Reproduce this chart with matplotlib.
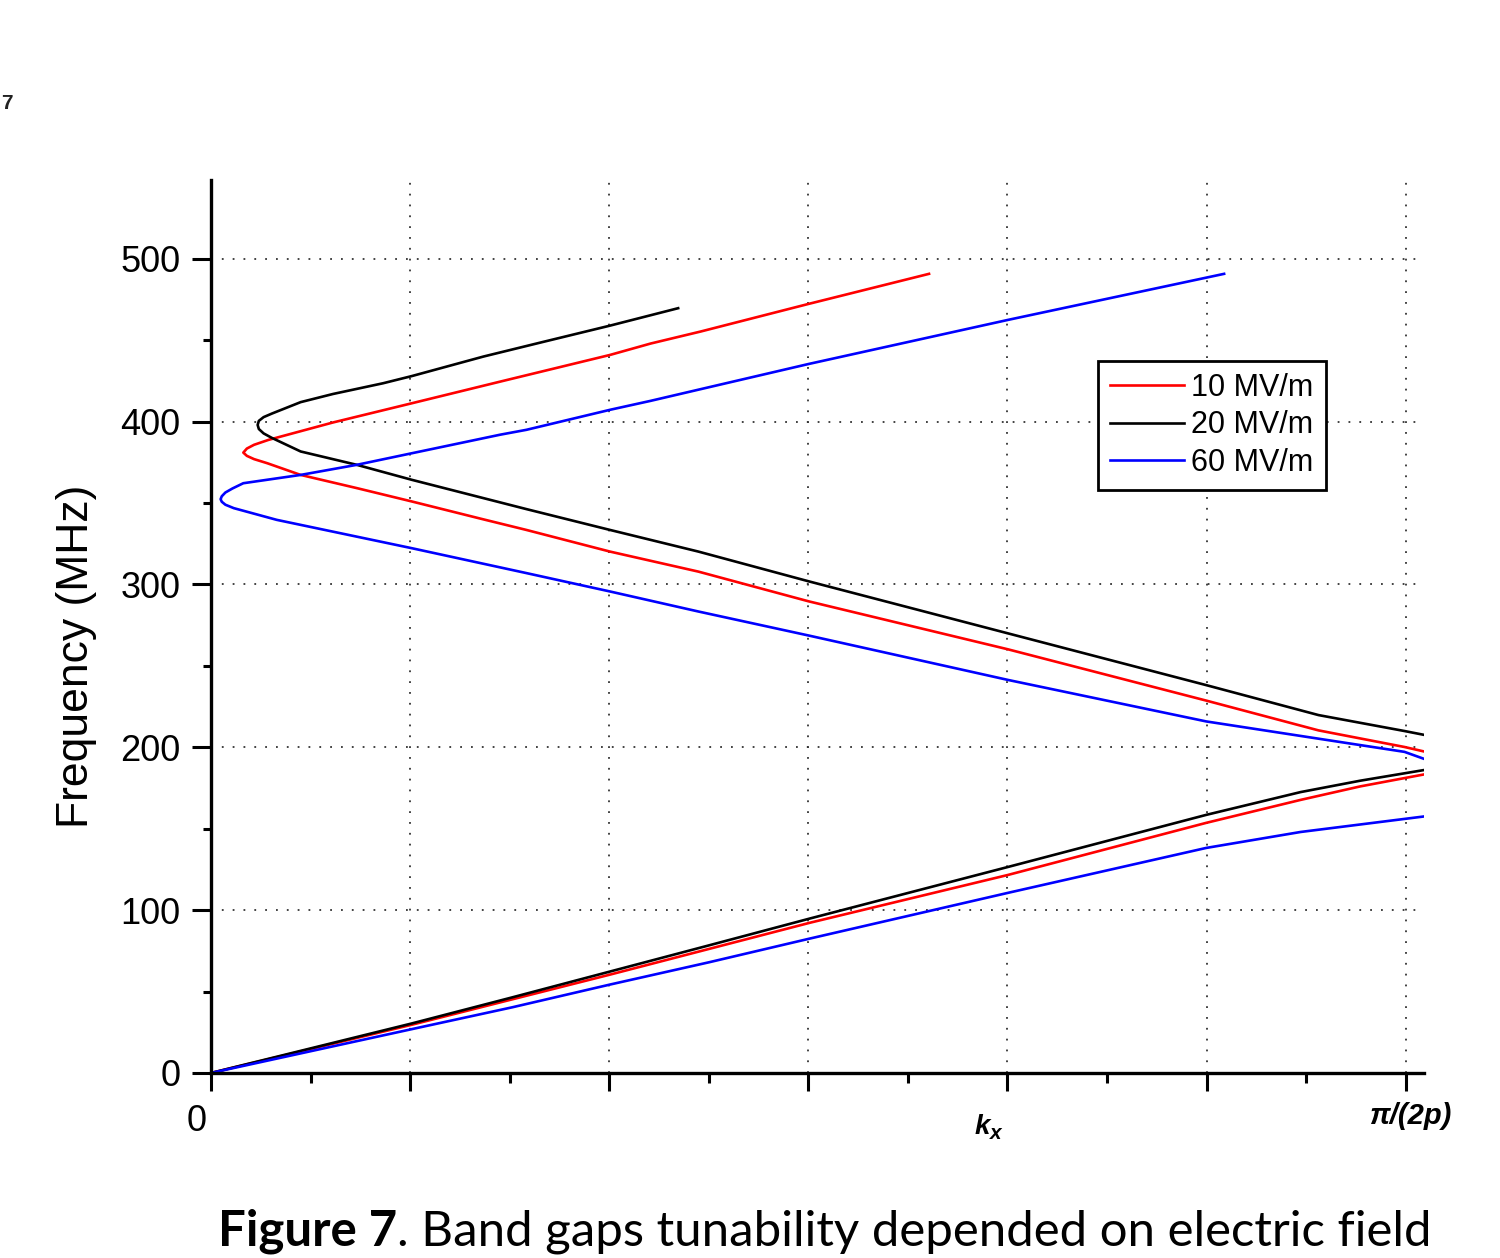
import numpy as np
import matplotlib
matplotlib.use('Agg')
import matplotlib.pyplot as plt
from matplotlib.ticker import MultipleLocator, FixedLocator

# field strengths
labels = ['10 MV/m', '20 MV/m', '60 MV/m']
colors = ['#ff0000', '#000000', '#0000ff']

# lower (acoustic-like) branches: kx in units of pi/(2p), f in MHz
low_k_10 = [0, 0.168, 0.334, 0.501, 0.667, 0.833, 0.912, 0.962, 1.015]
low_f_10 = [0, 29.6, 60.4, 92.2, 121.6, 153.6, 167.7, 176.0, 183.3]
low_k_20 = [0, 0.168, 0.252, 0.334, 0.417, 0.501, 0.667, 0.833, 0.912, 0.962, 1.015]
low_f_20 = [0, 30.4, 46.4, 62.3, 78.4, 94.8, 126.5, 158.5, 172.5, 179.5, 186.0]
low_k_60 = [0, 0.168, 0.252, 0.334, 0.417, 0.501, 0.667, 0.833, 0.912, 1.015]
low_f_60 = [0, 26.9, 40.3, 54.3, 68.0, 82.5, 110.6, 138.2, 148.0, 157.5]

# upper branches (fold back near kx = 0)
up_k_10 = [1.015, 0.999, 0.927, 0.833, 0.667, 0.500, 0.408, 0.334, 0.264, 0.228,
           0.168, 0.122, 0.075, 0.047, 0.036, 0.030, 0.027, 0.030, 0.036, 0.048,
           0.102, 0.168, 0.242, 0.334, 0.368, 0.410, 0.500, 0.601]
up_f_10 = [197.5, 200.2, 210.4, 228.7, 260.2, 289.7, 307.9, 320.2, 333.5, 340.0,
           351.0, 359.2, 367.3, 374.5, 377.0, 379.0, 381.0, 383.5, 385.8, 388.8,
           399.5, 411.3, 424.6, 441.0, 448.0, 455.4, 472.3, 490.8]
up_k_20 = [1.015, 0.999, 0.927, 0.833, 0.667, 0.500, 0.408, 0.334, 0.264, 0.168,
           0.122, 0.075, 0.051, 0.044, 0.040, 0.039, 0.040, 0.044, 0.051, 0.075,
           0.102, 0.144, 0.168, 0.228, 0.278, 0.334, 0.391]
up_f_20 = [207.7, 210.0, 219.8, 238.2, 270.0, 302.0, 320.2, 333.5, 346.3, 364.3,
           373.5, 381.7, 390.0, 392.8, 395.5, 398.0, 400.5, 402.8, 405.0, 412.0,
           417.0, 423.6, 428.0, 440.0, 449.0, 459.0, 469.7]
up_k_60 = [1.015, 0.999, 0.927, 0.833, 0.667, 0.500, 0.408, 0.334, 0.264, 0.168,
           0.055, 0.019, 0.012, 0.009, 0.008, 0.009, 0.012, 0.018, 0.027, 0.075,
           0.122, 0.168, 0.242, 0.264, 0.334, 0.368, 0.410, 0.500, 0.667, 0.848]
up_f_60 = [193.0, 197.2, 205.3, 215.9, 241.4, 268.7, 283.4, 295.7, 307.0, 322.3,
           339.7, 346.9, 349.0, 350.8, 352.4, 354.2, 356.5, 359.0, 362.2, 367.3,
           373.5, 380.6, 392.0, 395.0, 407.3, 412.8, 420.0, 435.4, 462.5, 490.8]

lows = [(low_k_10, low_f_10), (low_k_20, low_f_20), (low_k_60, low_f_60)]
ups = [(up_k_10, up_f_10), (up_k_20, up_f_20), (up_k_60, up_f_60)]

fig = plt.figure(figsize=(15, 12.58), dpi=100)
ax = fig.add_axes([0.1407, 0.1471, 0.8087, 0.7099])

for (lk, lf), (uk, uf), c, lab in zip(lows, ups, colors, labels):
    ax.plot(lk, lf, color=c, lw=1.9)
    ax.plot(uk, uf, color=c, lw=1.9, label=lab)

ax.set_xlim(0, 1.0154)
ax.set_ylim(0, 548.5)

# ticks
ax.xaxis.set_major_locator(FixedLocator(np.arange(7) / 6))
ax.xaxis.set_minor_locator(FixedLocator(np.arange(1, 12, 2) / 12))
ax.yaxis.set_major_locator(MultipleLocator(100))
ax.yaxis.set_minor_locator(MultipleLocator(50))
ax.set_xticklabels([])
ax.tick_params(axis='both', which='major', direction='out', width=2.2, color='black')
ax.tick_params(axis='x', which='major', length=13)
ax.tick_params(axis='y', which='major', length=14, pad=8, labelsize=26)
ax.tick_params(axis='x', which='minor', direction='out', length=7, width=2.2)
ax.tick_params(axis='y', which='minor', direction='out', length=6, width=2.2)
for t in ax.get_yticklabels():
    t.set_family('Liberation Sans')

for s in ['top', 'right']:
    ax.spines[s].set_visible(False)
for s in ['left', 'bottom']:
    ax.spines[s].set_linewidth(2.4)

ax.grid(True, which='major', ls=(0, (1, 5)), color='#333333', lw=1.3)
ax.set_axisbelow(True)

ax.set_ylabel('Frequency (MHz)', fontsize=32, family='Liberation Sans')
ax.yaxis.set_label_coords(-0.094, 0.466)

# x-axis labels
ax.text(-0.012, -0.054, '0', transform=ax.transAxes, ha='center', va='center',
        fontsize=26, family='Liberation Sans')
ax.text(1.004, -0.048, 'π/(2p)', transform=ax.get_xaxis_transform(), ha='center', va='center',
        fontsize=21, family='Liberation Sans', weight='bold', style='italic')
ax.text(0.652, -0.061, 'k', transform=ax.get_xaxis_transform(), ha='right', va='center',
        fontsize=20, family='Liberation Sans', weight='bold', style='italic')
ax.text(0.652, -0.068, 'x', transform=ax.get_xaxis_transform(), ha='left', va='center',
        fontsize=15, family='Liberation Sans', weight='bold', style='italic')

leg = ax.legend(loc='upper left', bbox_to_anchor=(0.7313, 0.7973), borderaxespad=0,
                fancybox=False, edgecolor='black', framealpha=1,
                prop={'family': 'Liberation Sans', 'size': 22},
                handlelength=2.4, handletextpad=0.25, labelspacing=0.24, borderpad=0.4)
leg.get_frame().set_linewidth(2.0)

# stray fragment at the top-left corner of the scan
fig.text(0.001, 0.918, '7', fontsize=15, color='#222222', family='Liberation Sans',
         weight='bold', ha='left', va='center')

# caption
cap1 = fig.text(0.1453, 0.0103, 'Figure 7', fontsize=35.4, family='Lato', weight='bold',
                ha='left', va='baseline')
fig.canvas.draw()
r = fig.canvas.get_renderer()
bb = cap1.get_window_extent(r)
fig.text(bb.x1 / fig.bbox.width, 0.0103, '. Band gaps tunability depended on electric field',
         fontsize=35.4, family='Lato', ha='left', va='baseline')

fig.savefig('out.png', dpi=100)
